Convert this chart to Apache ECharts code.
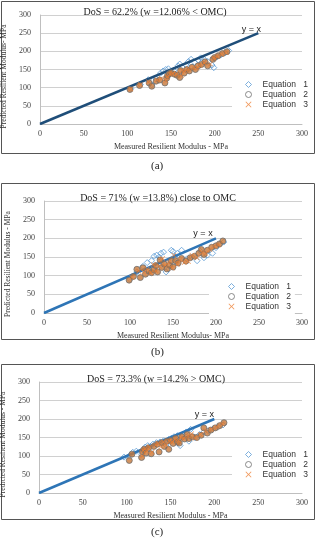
<!DOCTYPE html>
<html>
<head>
<meta charset="utf-8">
<script src="https://cdn.jsdelivr.net/npm/echarts@6/dist/echarts.min.js"></script>
<style>
  html, body { margin: 0; padding: 0; background: #fff; }
  #chart { width: 316px; height: 538px; }
</style>
</head>
<body>
<div id="chart"></div>
<script>
// panel titles
const titles = [
  "DoS = 62.2% (w =12.06% < OMC)",
  "DoS = 71% (w =13.8%) close to OMC",
  "DoS = 73.3% (w =14.2% > OMC)"
];
const captions = ["(a)", "(b)", "(c)"];
const xNames = ["Measured Resilient Modulus - MPa", "Measured Resilient Modulus- MPa", "Measured Resilient Modulus - MPa"];
const yNames = ["Predicted Resilient Modulus- MPa", "Predicted Resilient Modulus - MPa", "Predicted Resilient Modulus - MPa"];
const seriesNames = ["Equation 1", "Equation 2", "Equation 3"];
const lineEnd = [250, 200, 200];

// (a)
const aEq1 = [[104,98],[115,109],[124,122],[128,108],[133,124],[138,140],[141,146],[144,150],[147,152],[150,140],[153,147],[158,160],[160,165],[163,156],[167,163],[170,172],[173,178],[177,170],[181,176],[184,182],[188,178],[192,172],[197,162],[199,155],[203,186],[207,190],[212,196],[216,202]];
const aEq2 = [[103,95],[114,106],[125,113],[128,104],[133,118],[137,121],[143,113],[145,126],[146,133],[148,138],[150,141],[154,137],[157,134],[160,128],[161,147],[165,140],[168,150],[171,146],[174,156],[178,150],[181,160],[185,164],[189,171],[192,160],[198,178],[200,183],[204,188],[209,194],[214,199]];
const aEq3 = [[104,96],[115,108],[124,116],[134,121],[139,125],[144,120],[146,130],[149,136],[152,139],[156,138],[162,133],[163,148],[166,145],[170,152],[176,155],[180,154],[183,161],[188,168],[195,165],[199,181],[203,186],[208,192],[213,197]];

// (b)
const bEq1 = [[100,90],[108,110],[115,125],[120,135],[125,140],[128,152],[131,155],[134,150],[136,160],[139,163],[142,110],[145,118],[148,168],[150,165],[152,150],[155,160],[160,168],[166,145],[172,150],[178,140],[182,165],[186,148],[190,155],[196,160],[200,175],[205,185],[209,190]];
const bEq2 = [[99,88],[104,98],[108,117],[112,95],[115,121],[118,104],[122,112],[125,108],[128,116],[130,127],[132,110],[135,142],[137,122],[140,131],[143,118],[146,128],[148,140],[150,123],[153,140],[156,134],[160,146],[165,139],[170,148],[175,152],[180,160],[183,170],[186,157],[190,168],[195,176],[200,180],[204,185],[208,193]];
const bEq3 = [[102,95],[110,112],[116,110],[120,118],[124,107],[127,130],[130,113],[134,125],[138,146],[141,128],[145,135],[149,120],[151,155],[155,130],[158,142],[163,135],[168,138],[172,155],[178,148],[184,162],[188,160],[193,170],[198,178],[203,182]];

// (c)
const cEq1 = [[97,97],[103,100],[107,110],[111,113],[117,105],[119,118],[121,124],[124,128],[127,126],[130,132],[134,136],[138,138],[142,141],[145,130],[148,145],[151,148],[154,152],[158,155],[161,128],[164,158],[168,165],[171,140],[173,172],[178,150],[183,158],[188,165],[193,168],[198,172],[204,178],[210,184]];
const cEq2 = [[103,88],[106,105],[117,96],[118,112],[120,118],[122,108],[125,122],[128,106],[131,126],[135,132],[137,111],[140,136],[143,126],[146,140],[148,118],[150,142],[153,134],[156,148],[158,138],[160,135],[163,152],[166,146],[169,158],[171,147],[175,152],[180,150],[185,156],[188,176],[192,162],[196,170],[201,176],[206,182],[211,190]];
const cEq3 = [[118,100],[119,115],[121,120],[123,113],[126,124],[129,110],[133,130],[136,134],[139,125],[142,138],[145,130],[149,140],[152,138],[155,146],[159,142],[162,150],[165,148],[170,155],[174,160],[178,148],[184,158],[190,168],[197,172],[203,178],[209,186]];

const panelData = [[aEq1, aEq2, aEq3], [bEq1, bEq2, bEq3], [cEq1, cEq2, cEq3]];

// layout per panel (pixels)
const grids = [
  { left: 40, top: 15, width: 262, height: 109 },
  { left: 44, top: 201, width: 258, height: 112 },
  { left: 39, top: 382, width: 263, height: 111 }
];
const frames = [
  { y: 1, h: 152 },
  { y: 183, h: 156 },
  { y: 364, h: 155 }
];
const titleCenter = [156, 159, 157];
const legendPos = [
  { left: 232, top: 77, padLeft: 13 },
  { left: 209, top: 279, padLeft: 19 },
  { left: 232, top: 447, padLeft: 13 }
];
const lineColors = ["#1F4E79", "#2E75B6", "#2E75B6"];
const labelOffset = [[-7, 4], [-13, 3], [-10, 3]];

const serif = "Liberation Serif";
const sans = "Liberation Sans";
const crossPath = "path://M0,1L1,0L5,4L9,0L10,1L6,5L10,9L9,10L5,6L1,10L0,9L4,5Z";

let option = {
  animation: false,
  backgroundColor: "#fff",
  title: [],
  legend: [],
  grid: [],
  xAxis: [],
  yAxis: [],
  series: [],
  graphic: []
};

grids.forEach((g, i) => {
  option.grid.push(Object.assign({ containLabel: false, outerBoundsMode: "none" }, g));
  option.title.push({
    text: titles[i],
    left: titleCenter[i] - 6,
    textAlign: "center",
    top: g.top - 13,
    textStyle: { fontFamily: serif, fontSize: 10, fontWeight: "normal", color: "#222" }
  });
  option.graphic.push({
    type: "rect",
    shape: { x: 1.5, y: frames[i].y + 0.5, width: 313, height: frames[i].h },
    style: { fill: "none", stroke: "#555", lineWidth: 1 },
    z: -1
  });
  option.graphic.push({
    type: "text",
    left: 151,
    top: frames[i].y + frames[i].h + 8,
    style: { text: captions[i], fontFamily: serif, fontSize: 11, fill: "#222" }
  });
  option.xAxis.push({
    gridIndex: i,
    type: "value",
    min: 0,
    max: 300,
    interval: 50,
    name: xNames[i],
    nameLocation: "middle",
    nameGap: 19,
    nameTextStyle: { fontFamily: serif, fontSize: 8, color: "#333" },
    axisLine: { lineStyle: { color: "#BFBFBF" } },
    axisTick: { show: false },
    splitLine: { show: false },
    axisLabel: { fontFamily: serif, fontSize: 8, color: "#444", margin: 6 }
  });
  option.yAxis.push({
    gridIndex: i,
    type: "value",
    min: 0,
    max: 300,
    interval: 50,
    name: yNames[i],
    nameLocation: "middle",
    nameGap: 26,
    nameTextStyle: { fontFamily: serif, fontSize: 7.5, color: "#333", padding: [0, 14, 0, 0] },
    axisLine: { show: true, lineStyle: { color: "#BFBFBF" } },
    axisTick: { show: false },
    splitLine: { lineStyle: { color: "#D0D0D0", width: 1 } },
    axisLabel: { fontFamily: serif, fontSize: 8, color: "#444", margin: 9 }
  });

  const [eq1, eq2, eq3] = panelData[i];
  option.series.push({
    type: "line",
    xAxisIndex: i,
    yAxisIndex: i,
    data: [[0, 0], [lineEnd[i], lineEnd[i]]],
    symbol: "none",
    lineStyle: { color: lineColors[i], width: 2.5 },
    markPoint: {
      symbol: "circle",
      symbolSize: 0,
      data: [{ coord: [lineEnd[i], lineEnd[i]] }],
      label: {
        show: true,
        formatter: "y = x",
        position: "top",
        distance: 3,
        offset: labelOffset[i],
        fontFamily: sans,
        fontSize: 9,
        color: "#222"
      }
    },
    z: 3
  });
  option.series.push({
    name: seriesNames[0],
    type: "scatter",
    xAxisIndex: i,
    yAxisIndex: i,
    data: eq1,
    symbol: "diamond",
    symbolSize: 6,
    itemStyle: { color: "rgba(255,255,255,0)", borderColor: "#5B9BD5", borderWidth: 1 },
    z: 2
  });
  option.series.push({
    name: seriesNames[1],
    type: "scatter",
    xAxisIndex: i,
    yAxisIndex: i,
    data: eq2,
    symbol: "circle",
    symbolSize: 6,
    itemStyle: { color: "#C7783A", borderColor: "#6F6F6F", borderWidth: 1 },
    z: 4
  });
  option.series.push({
    name: seriesNames[2],
    type: "scatter",
    xAxisIndex: i,
    yAxisIndex: i,
    data: eq3,
    symbol: crossPath,
    symbolSize: 5,
    itemStyle: { color: "#ED7D31" },
    z: 5
  });

  option.legend.push({
    orient: "vertical",
    left: legendPos[i].left,
    top: legendPos[i].top,
    backgroundColor: "#fff",
    padding: [3, 4, 3, legendPos[i].padLeft],
    itemGap: 1,
    itemWidth: 6,
    itemHeight: 6,
    selectedMode: false,
    textStyle: { fontFamily: sans, fontSize: 8.5, color: "#333", padding: [0, 0, 0, 6] },
    formatter: name => name.replace(" ", "   "),
    data: [
      { name: seriesNames[0], icon: "diamond", itemStyle: { color: "#fff", borderColor: "#5B9BD5", borderWidth: 1 } },
      { name: seriesNames[1], icon: "circle", itemStyle: { color: "#fff", borderColor: "#6F6F6F", borderWidth: 1 } },
      { name: seriesNames[2], icon: crossPath, itemStyle: { color: "#ED7D31", borderWidth: 0 } }
    ]
  });
});

const chart = echarts.init(document.getElementById("chart"), null, { renderer: "canvas" });
chart.setOption(option);
</script>
</body>
</html>
